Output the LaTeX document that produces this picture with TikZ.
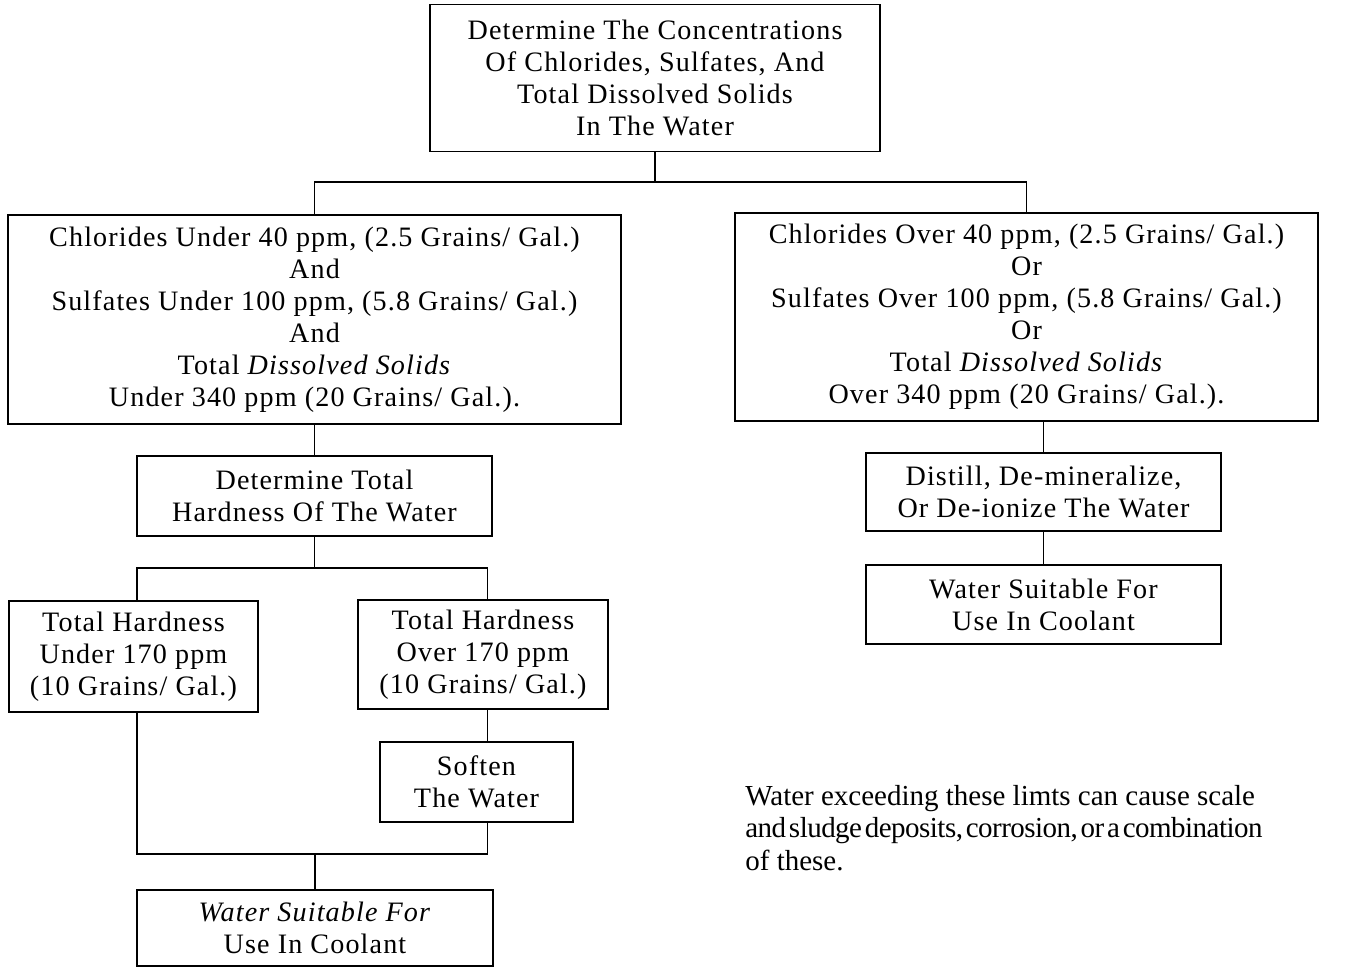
\documentclass[tikz,border=0pt]{standalone}
\usepackage{fontspec}
\setmainfont{Liberation Serif}[LetterSpace=4,WordSpace=1.0]
\newfontfamily\notefont{Liberation Serif}
\usetikzlibrary{calc}

\begin{document}
\begin{tikzpicture}[
		box/.style={draw, line width=1.1pt, align=center, inner sep=0pt,
			font=\fontsize{16}{18.2}\selectfont},
		link/.style={line width=1.1pt}
	]
			\def\sw{7.1};
			\def\sh{1.58};

			\useasboundingbox (0,0) rectangle (26.96,-19.38);

			% first test
			\node [box, minimum width=9cm, minimum height=2.94cm] (conc) at (13.10,-1.56)
				{Determine The Concentrations\\Of Chlorides, Sulfates, And\\Total Dissolved Solids\\In The Water};

			% the two outcomes
			\node [box, minimum width=12.26cm, minimum height=4.18cm] (under limits) at (6.29,-6.39)
				{Chlorides Under 40 ppm, (2.5 Grains/ Gal.)\\And\\Sulfates Under 100 ppm, (5.8 Grains/ Gal.)\\And\\Total \textit{Dissolved Solids}\\Under 340 ppm (20 Grains/ Gal.).};
			\node [box, minimum width=11.66cm, minimum height=4.16cm] (over limits) at (20.53,-6.34)
				{Chlorides Over 40 ppm, (2.5 Grains/ Gal.)\\Or\\Sulfates Over 100 ppm, (5.8 Grains/ Gal.)\\Or\\Total \textit{Dissolved Solids}\\Over 340 ppm (20 Grains/ Gal.).};

			% left branch
			\node [box, minimum width=\sw cm, minimum height=1.6cm] (hardness) at (6.29,-9.92)
				{Determine Total\\Hardness Of The Water};
			\node [box, minimum width=4.98cm, minimum height=2.22cm] (soft) at (2.67,-13.13)
				{Total Hardness\\Under 170 ppm\\(10 Grains/ Gal.)};
			\node [box, minimum width=5cm, minimum height=2.18cm] (hard) at (9.66,-13.09)
				{Total Hardness\\Over 170 ppm\\(10 Grains/ Gal.)};
			\node [box, minimum width=3.86cm, minimum height=1.6cm] (soften) at (9.53,-15.64)
				{Soften\\The Water};
			\node [box, minimum width=7.12cm, minimum height=1.52cm] (suitable left) at (6.30,-18.56)
				{\textit{Water Suitable For}\\Use In Coolant};

			% right branch
			\node [box, minimum width=\sw cm, minimum height=1.56cm] (treat) at (20.87,-9.84)
				{Distill, De-mineralize,\\Or De-ionize The Water};
			\node [box, minimum width=\sw cm, minimum height=\sh cm] (suitable right) at (20.87,-12.09)
				{Water Suitable For\\Use In Coolant};

			\node [anchor=north west, align=left, inner sep=0pt,
				font=\notefont\fontsize{16.5}{18.4}\selectfont] (note) at (14.9,-15.7)
				{Water exceeding these limts can cause scale\\{\addfontfeature{LetterSpace=-1.8}\spaceskip=1.6pt and sludge deposits, corrosion, or a combination}\\of these.};

			% junctions
			\coordinate (split top) at ($ (conc.south) + (0,-0.6) $);
			\coordinate (split hardness) at ($ (hardness.south) + (0,-0.62) $);
			\coordinate (merge) at ($ (suitable left.north) + (0,0.7) $);

			\begin{scope}[link]
				\draw (conc.south) -- (split top);
				\draw (under limits.north) |- (split top) -| (over limits.north);
				\draw (under limits.south) -- (hardness.north);

				\draw (hardness.south) -- (split hardness);
				\draw ($ (soft.north) + (0.07,0) $) |- (split hardness) -| ($ (hard.north) + (0.09,0) $);
				\draw ($ (hard.south) + (0.09,0) $) -- ($ (hard.south |- soften.north) + (0.09,0) $);
				\draw ($ (soft.south) + (0.07,0) $) |- (merge) -| ($ (hard.south |- soften.south) + (0.09,0) $);
				\draw (merge) -- (suitable left.north);

				\draw (treat.north |- over limits.south) -- (treat.north);
				\draw (treat.south) -- (suitable right.north);
			\end{scope}
		\end{tikzpicture}
\end{document}
